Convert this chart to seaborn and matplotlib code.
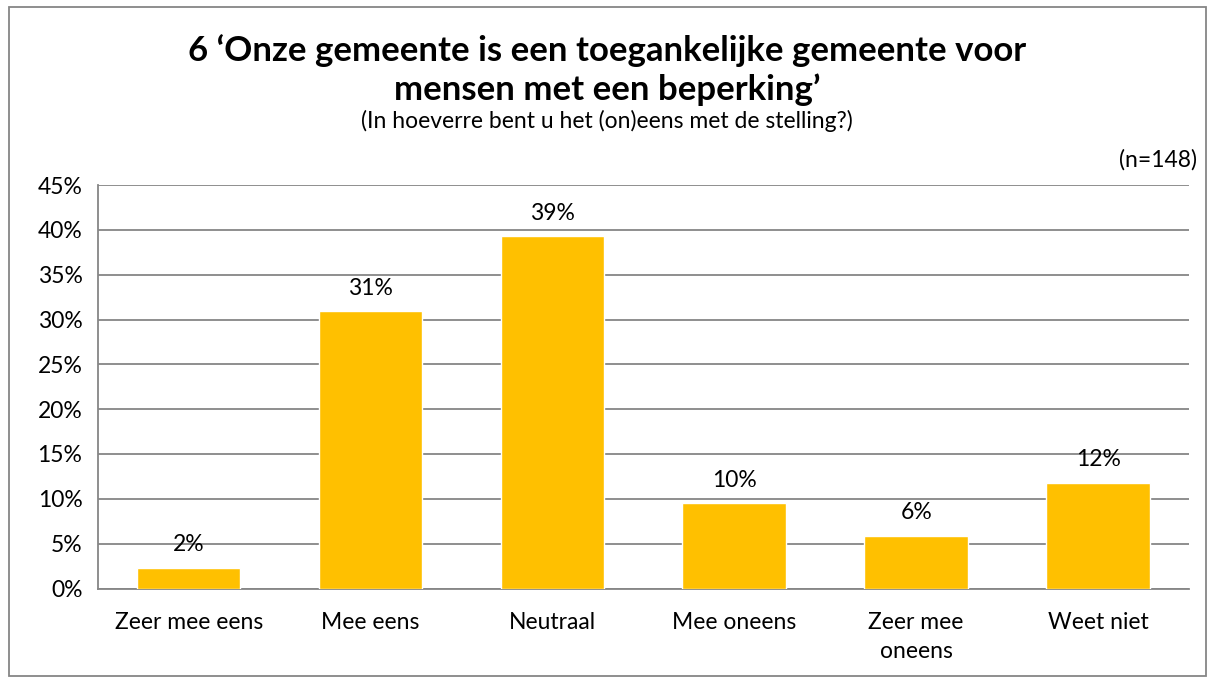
import numpy as np
import pandas as pd
import matplotlib
matplotlib.use('Agg')
import matplotlib.pyplot as plt
from matplotlib.patches import Rectangle
from matplotlib.ticker import FixedLocator, MultipleLocator, PercentFormatter
import seaborn as sns

# data (percentages)
categories = ['Zeer mee eens', 'Mee eens', 'Neutraal', 'Mee oneens', 'Zeer mee\noneens', 'Weet niet']
percentages = [2.3, 30.9, 39.3, 9.5, 5.9, 11.8]
value_labels = ['2%', '31%', '39%', '10%', '6%', '12%']

title = '6 \u2018Onze gemeente is een toegankelijke gemeente voor\nmensen met een beperking\u2019'
subtitle = '(In hoeverre bent u het (on)eens met de stelling?)'
n_label = '(n=148)'

df = pd.DataFrame({'categorie': categories, 'percentage': percentages})

sns.set_style('white', {'text.color': 'black', 'xtick.color': 'black',
                        'ytick.color': 'black'})
plt.rcParams['font.family'] = ['Lato', 'DejaVu Sans']

FS = 16.5
W, H = 1214, 680
fig = plt.figure(figsize=(W / 100, H / 100), dpi=100)
ax = fig.add_axes([97.7 / W, 1 - 588.5 / H, (1189 - 97.7) / W, (588.5 - 185) / H])

sns.barplot(data=df, x='categorie', y='percentage', color='#FFC000', width=0.57,
            saturation=1, ax=ax, zorder=3)

ax.set_ylim(0, 45)
ax.set_xlim(-0.5, len(categories) - 0.5)
ax.yaxis.set_major_locator(MultipleLocator(5))
ax.yaxis.set_major_formatter(PercentFormatter(decimals=0))
ax.grid(axis='y', color='#868686', linewidth=1.3, zorder=0)
ax.set_xlabel('')
ax.set_ylabel('')

for side in ['top', 'right']:
    ax.spines[side].set_visible(False)
for side in ['left', 'bottom']:
    ax.spines[side].set_color('#868686')
    ax.spines[side].set_linewidth(1.3)

ax.tick_params(axis='y', which='major', length=7, width=1.3, color='#868686',
               labelcolor='black', labelsize=FS, pad=4)
ax.tick_params(axis='x', which='major', length=0, labelcolor='black',
               labelsize=FS, pad=17)
for lbl in ax.get_xticklabels():
    lbl.set_linespacing(1.45)
ax.xaxis.set_minor_locator(FixedLocator(np.arange(-0.5, len(categories), 1)))
ax.tick_params(axis='x', which='minor', length=7, width=1.3, color='#868686')

ax.bar_label(ax.containers[0], labels=value_labels, padding=9, fontsize=FS,
             color='black')

fig.text(0.5, 1 - 70 / H, title, ha='center', va='center', fontsize=25,
         fontweight='bold', linespacing=1.22, color='black')
fig.text(0.5, 1 - 121 / H, subtitle, ha='center', va='center', fontsize=FS,
         color='black')
fig.text(1197 / W, 1 - 160 / H, n_label, ha='right', va='center', fontsize=FS,
         color='black')

fig.patches.append(Rectangle((9 / W, 4 / H), (1206 - 9) / W, (673 - 4) / H,
                             transform=fig.transFigure, fill=False,
                             edgecolor='#868686', linewidth=1.3))

fig.savefig('out.png', dpi=100)
